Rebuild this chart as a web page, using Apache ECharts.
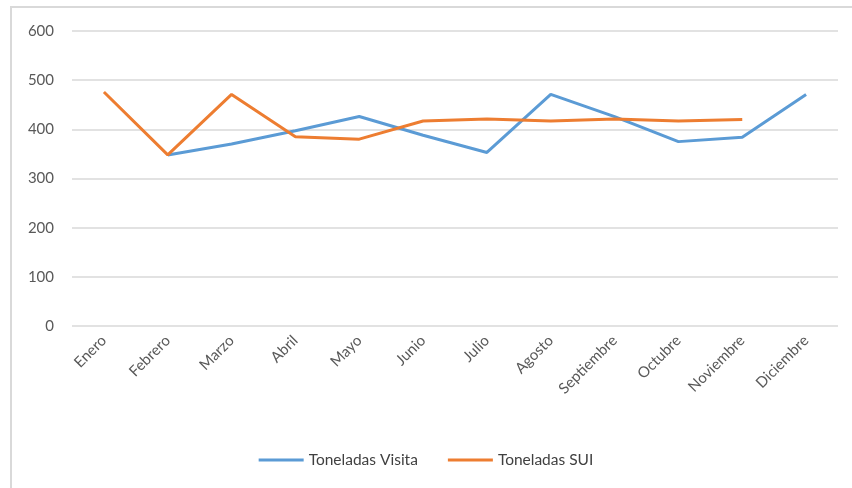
<!DOCTYPE html>
<html><head><meta charset="utf-8">
<script src="https://cdn.jsdelivr.net/npm/echarts@6/dist/echarts.min.js"></script>
<style>
html,body{margin:0;padding:0;background:#fff;}
#frame{position:absolute;left:10px;top:6px;width:900px;height:520px;border:2px solid #d9d9d9;box-sizing:border-box;}
#chart{position:absolute;left:0;top:0;width:852px;height:488px;}
</style>
</head><body>
<div id="frame"></div>
<div id="chart"></div>
<script>
const categories = ['Enero','Febrero','Marzo','Abril','Mayo','Junio','Julio','Agosto','Septiembre','Octubre','Noviembre','Diciembre'];
const visita = [null, 348, 370, 397, 426, 388, 353, 471, 426, 375, 384, 471];
const sui = [476, 348, 471, 385, 380, 417, 421, 417, 421, 417, 420, null];
const yTicks = {min: 0, max: 600, interval: 100};

const chart = echarts.init(document.getElementById('chart'));
chart.setOption({
  animation: false,
  textStyle: {fontFamily: 'Lato'},
  grid: {left: 72, right: 14, top: 31, bottom: 162},
  legend: {
    bottom: 15, left: 'center', itemWidth: 45, itemHeight: 3, itemGap: 30,
    icon: 'rect',
    textStyle: {fontSize: 15.5, color: '#404040', fontFamily: 'Lato'},
    data: ['Toneladas Visita', 'Toneladas SUI']
  },
  xAxis: {
    type: 'category', data: categories, boundaryGap: true,
    axisLine: {show: false}, axisTick: {show: false},
    axisLabel: {rotate: 45, color: '#595959', fontSize: 15, margin: 12, interval: 0}
  },
  yAxis: {
    type: 'value', min: yTicks.min, max: yTicks.max, interval: yTicks.interval,
    axisLine: {show: false}, axisTick: {show: false},
    axisLabel: {color: '#595959', fontSize: 15, margin: 18},
    splitLine: {lineStyle: {color: '#d9d9d9', width: 1.5}}
  },
  series: [
    {name: 'Toneladas Visita', type: 'line', data: visita, symbol: 'none',
     lineStyle: {color: '#5B9BD5', width: 3}, itemStyle: {color: '#5B9BD5'}},
    {name: 'Toneladas SUI', type: 'line', data: sui, symbol: 'none',
     lineStyle: {color: '#ED7D31', width: 3}, itemStyle: {color: '#ED7D31'}}
  ]
});
</script>
</body></html>
